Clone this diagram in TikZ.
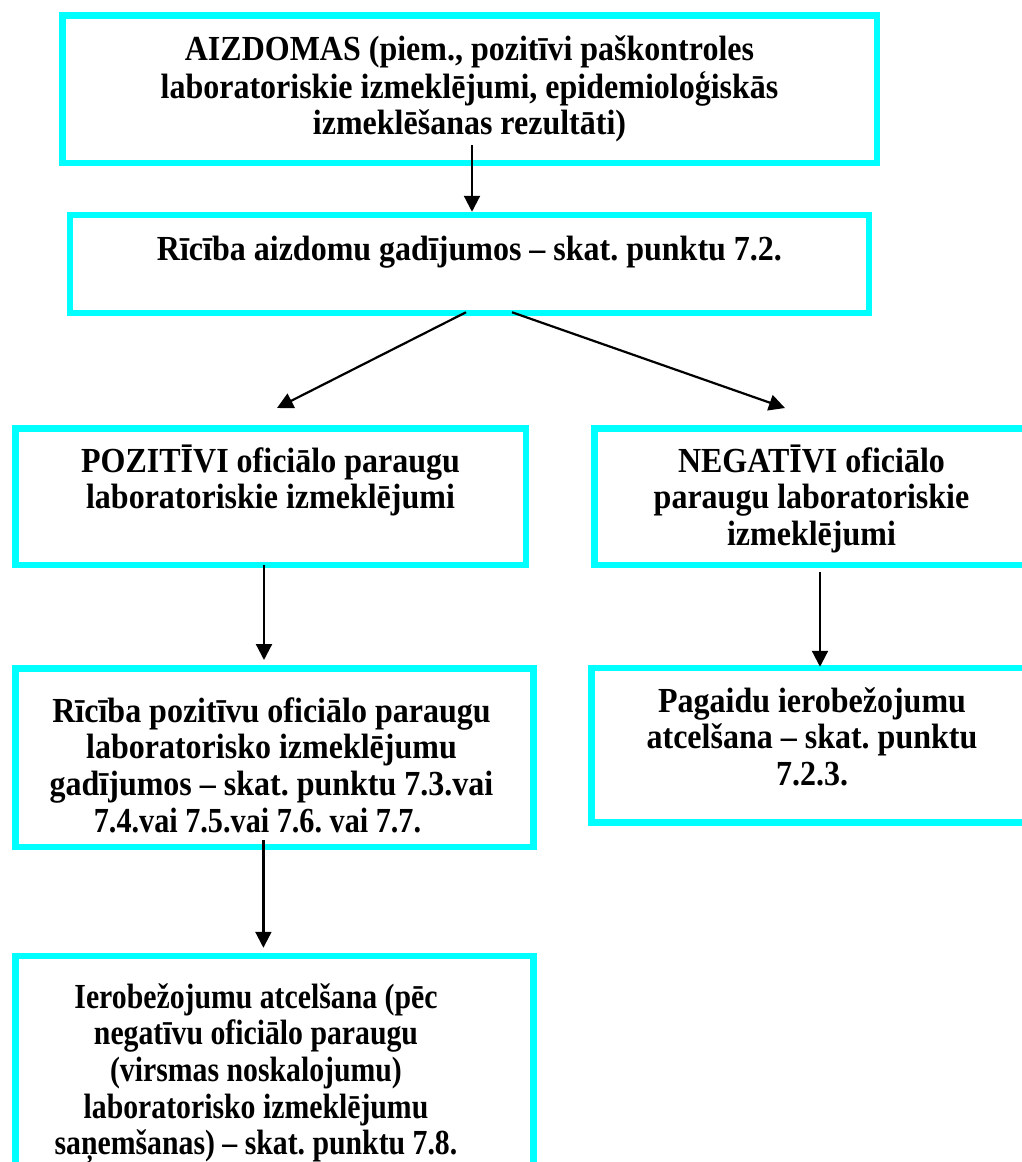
\documentclass[tikz,border=0pt]{standalone}
\usepackage{fontspec}
\setmainfont{Liberation Serif}
\usetikzlibrary{arrows.meta}
\definecolor{boxcyan}{RGB}{0,255,255}
\newcommand{\boxlines}[2][1]{\scalebox{#1}[1.1]{\begin{tabular}[t]{@{}c@{}}#2\end{tabular}}}
\begin{document}
\frenchspacing
\begin{tikzpicture}[x=1pt,y=-1pt,
  flowbox/.style={draw=boxcyan, line width=6.5pt, inner sep=0pt, rectangle},
  boxtext/.style={inner sep=0pt, anchor=base, font=\fontsize{32}{33.4}\selectfont\bfseries},
  arr/.style={line width=2.2pt, -{Triangle[length=16pt,width=16pt]}}]
\useasboundingbox (0,0) rectangle (1022,1162);
\clip (0,0) rectangle (1022,1162);
% boxes
\node[flowbox, minimum width=814.5pt, minimum height=147.5pt] (b1) at (469.5,89) {};
\node[flowbox, minimum width=799pt, minimum height=98pt] (b2) at (469.5,264) {};
\node[flowbox, minimum width=510.5pt, minimum height=136.5pt] (pos) at (270.5,496.5) {};
\node[flowbox, minimum width=433.5pt, minimum height=136.5pt] (neg) at (811,496.5) {};
\node[flowbox, minimum width=441pt, minimum height=154.5pt] (pag) at (812,745.25) {};
\node[flowbox, minimum width=518.25pt, minimum height=178.5pt] (rp) at (274.4,757.5) {};
\node[flowbox, minimum width=518.25pt, minimum height=244pt] (lift) at (274.4,1078) {};
% texts
\node[boxtext] (t1) at (469.5,60) {\boxlines{AIZDOMAS (piem., pozitīvi paškontroles\\laboratoriskie izmeklējumi, epidemioloģiskās\\izmeklēšanas rezultāti)}};
\node[boxtext] (t2) at (469.5,260) {\boxlines{Rīcība aizdomu gadījumos – skat. punktu 7.2.}};
\node[boxtext] (t3) at (270.5,472) {\boxlines{POZITĪVI oficiālo paraugu\\laboratoriskie izmeklējumi}};
\node[boxtext] (t4) at (811.5,472) {\boxlines{NEGATĪVI oficiālo\\paraugu laboratoriskie\\izmeklējumi}};
\node[boxtext] (t5) at (812,712) {\boxlines{Pagaidu ierobežojumu\\atcelšana – skat. punktu\\7.2.3.}};
\node[boxtext] (t6) at (271.5,722) {\boxlines{Rīcība pozitīvu oficiālo paraugu\\laboratorisko izmeklējumu\\gadījumos – skat. punktu 7.3.vai\\\scalebox{0.944}[1]{7.4.vai 7.5.vai 7.6. vai 7.7.}\hspace*{28pt}}};
\node[boxtext] (t7) at (256,1008) {\boxlines[0.93]{Ierobežojumu atcelšana (pēc\\negatīvu oficiālo paraugu\\(virsmas noskalojumu)\\laboratorisko izmeklējumu\\saņemšanas) – skat. punktu 7.8.}};
% connectors
\draw[arr] ([xshift=2.5pt,yshift=21pt]b1.south) -- ([xshift=2.5pt]b2.north);
\draw[arr] ([xshift=-3.5pt,yshift=4pt]b2.south) -- ([xshift=6.5pt,yshift=17pt]pos.north);
\draw[arr] ([xshift=42.5pt,yshift=4pt]b2.south) -- ([xshift=-26pt,yshift=17pt]neg.north);
\draw[arr] ([xshift=-6.5pt,yshift=3pt]pos.south) -- ([xshift=-10.4pt,yshift=5pt]rp.north);
\draw[arr] ([xshift=9pt,yshift=-4pt]neg.south) -- ([xshift=8pt,yshift=-2pt]pag.north);
\draw[arr] ([xshift=-11pt,yshift=10pt]rp.south) -- ([xshift=-11pt,yshift=5pt]lift.north);
\end{tikzpicture}
\end{document}
